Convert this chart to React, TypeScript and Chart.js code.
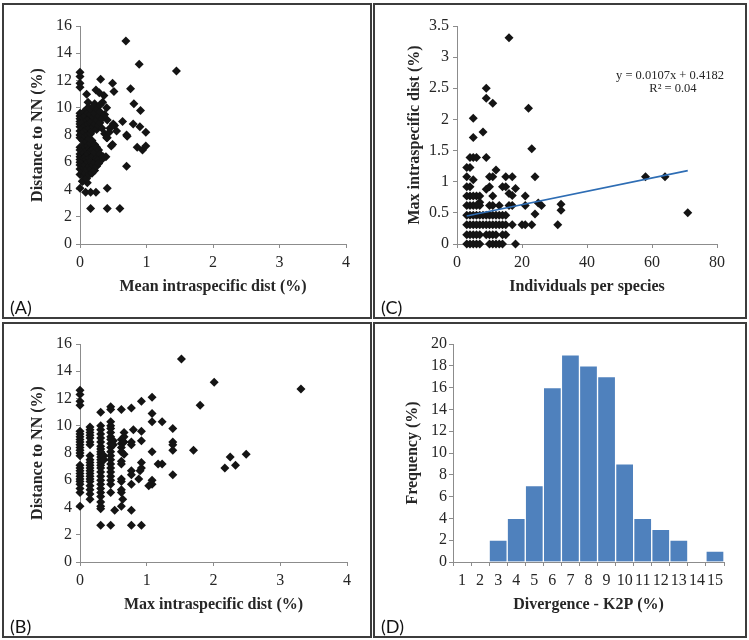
import React, { useEffect, useRef } from "react";
import { Chart, registerables } from "chart.js";

Chart.register(...registerables);

// ---------------- DATA ----------------
// Panel A: mean intraspecific distance (%) vs distance to nearest neighbour (%)
const panelAPoints: [number, number][] = [
  [0.69, 14.9], [0.89, 13.2], [1.45, 12.7], [0, 12.6], [0, 12.3], [0, 11.8], [0, 11.5],
  [0.31, 12.1], [0.49, 11.8], [0.51, 11.2], [0.76, 11.4], [0.1, 11.0], [0.24, 11.3], [0.29, 11.1],
  [0.36, 10.9], [0.81, 10.3], [0.91, 9.8], [0.12, 10.4], [0.22, 10.3], [0.34, 10.4], [0.41, 9.1],
  [0.64, 9.0], [0.8, 8.8], [0.9, 8.6], [0.99, 8.2], [0.52, 8.7], [0.55, 8.3], [0.7, 8.0], [0.71, 7.9],
  [0.45, 8.5], [0.41, 7.8], [0.49, 7.3], [0.47, 7.2], [0.86, 7.1], [0.94, 6.9], [0.99, 7.2], [0.7, 5.7],
  [0.41, 4.1], [0.16, 2.6], [0.41, 2.6], [0.6, 2.6], [0.085, 3.8], [0.16, 3.8], [0.24, 3.8],
  [0.035, 4.6], [0.11, 4.5], [0.39, 6.4], [0.33, 6.2], [0.5, 8.8],
  [0, 9.6], [0, 9.4], [0, 9.2], [0, 9.0], [0, 8.8], [0, 8.6], [0, 8.3], [0, 8.0], [0, 7.8], [0, 7.1],
  [0, 6.9], [0, 6.6], [0, 6.4], [0, 6.2], [0, 6.0], [0, 5.8], [0, 5.5], [0, 5.1], [0, 4.1],
  [0.02, 9.5], [0.02, 8.9], [0.02, 8.1], [0.02, 7.0], [0.02, 6.5], [0.02, 5.9],
  [0.04, 9.3], [0.04, 8.5], [0.04, 7.6], [0.04, 6.8], [0.04, 6.1], [0.04, 5.3], [0.04, 4.6],
  [0.06, 9.7], [0.06, 9.0], [0.06, 8.2], [0.06, 7.3], [0.06, 6.7], [0.06, 6.3], [0.06, 5.6], [0.06, 5.0],
  [0.08, 9.4], [0.08, 8.7], [0.08, 7.9], [0.08, 7.1], [0.08, 6.4], [0.08, 5.8], [0.08, 5.2],
  [0.1, 9.9], [0.1, 9.1], [0.1, 8.4], [0.1, 7.5], [0.1, 6.9], [0.1, 6.2], [0.1, 5.5], [0.1, 4.8],
  [0.12, 9.6], [0.12, 8.8], [0.12, 8.0], [0.12, 7.2], [0.12, 6.6], [0.12, 6.0], [0.12, 5.4],
  [0.14, 10.0], [0.14, 9.2], [0.14, 8.5], [0.14, 7.7], [0.14, 7.0], [0.14, 6.3], [0.14, 5.7], [0.14, 5.1],
  [0.16, 9.5], [0.16, 8.9], [0.16, 8.1], [0.16, 7.4], [0.16, 6.8], [0.16, 6.1], [0.16, 5.5],
  [0.18, 9.8], [0.18, 9.0], [0.18, 8.3], [0.18, 7.6], [0.18, 6.9], [0.18, 6.4], [0.18, 5.9], [0.18, 5.2],
  [0.2, 10.1], [0.2, 9.3], [0.2, 8.6], [0.2, 7.0], [0.2, 6.5], [0.2, 5.8],
  [0.22, 9.6], [0.22, 8.8], [0.22, 7.3], [0.22, 6.7], [0.22, 6.0], [0.22, 5.4],
  [0.25, 9.9], [0.25, 9.1], [0.25, 8.4], [0.25, 7.1], [0.25, 6.3], [0.25, 5.7],
  [0.28, 9.4], [0.28, 8.7], [0.28, 6.9], [0.28, 6.2], [0.28, 5.9],
  [0.3, 10.2], [0.3, 9.7], [0.3, 8.9], [0.3, 6.6],
  [0.33, 9.2], [0.33, 8.5], [0.35, 6.4], [0.37, 9.5], [0.37, 8.1], [0.4, 10.0], [0.4, 7.8], [0.44, 8.2],
];

// Panel B: max intraspecific distance (%) vs distance to nearest neighbour (%)
const panelBPoints: [number, number][] = [
  [0, 12.6], [0, 12.3], [0, 11.8], [0, 11.5], [0, 9.6], [0, 9.4], [0, 9.2], [0, 9.0], [0, 8.8], [0, 8.6],
  [0, 8.4], [0, 8.2], [0, 8.0], [0, 7.8], [0, 7.1], [0, 6.9], [0, 6.7], [0, 6.5], [0, 6.3], [0, 6.1],
  [0, 5.9], [0, 5.7], [0, 5.4], [0, 5.1], [0, 4.1],
  [0.15, 9.9], [0.15, 9.7], [0.15, 9.5], [0.15, 9.3], [0.15, 9.1], [0.15, 8.8], [0.15, 8.6], [0.15, 7.8],
  [0.15, 7.5], [0.15, 7.3], [0.15, 7.1], [0.15, 6.9], [0.15, 6.7], [0.15, 6.5], [0.15, 6.3], [0.15, 6.1],
  [0.15, 5.9], [0.15, 5.6], [0.15, 5.3], [0.15, 5.0], [0.15, 4.6],
  [0.31, 11.0], [0.31, 10.0], [0.31, 9.7], [0.31, 9.4], [0.31, 9.1], [0.31, 8.8], [0.31, 8.5], [0.31, 8.3],
  [0.31, 8.1], [0.31, 7.9], [0.31, 7.7], [0.31, 7.5], [0.31, 7.3], [0.31, 7.1], [0.31, 6.9], [0.31, 6.6],
  [0.31, 6.3], [0.31, 6.0], [0.31, 5.7], [0.31, 5.4], [0.31, 5.1], [0.31, 4.8], [0.31, 4.4], [0.31, 4.1],
  [0.31, 3.9], [0.31, 2.7], [0.36, 7.8], [0.36, 7.5],
  [0.46, 11.4], [0.46, 11.2], [0.46, 10.3], [0.46, 10.0], [0.46, 9.8], [0.46, 9.5], [0.46, 9.2], [0.46, 9.0],
  [0.46, 8.7], [0.46, 8.4], [0.46, 8.1], [0.46, 7.8], [0.46, 7.5], [0.46, 7.2], [0.46, 6.9], [0.46, 6.6],
  [0.46, 6.3], [0.46, 6.0], [0.46, 5.7], [0.46, 5.1], [0.46, 2.7], [0.5, 8.9], [0.5, 8.6], [0.52, 3.8],
  [0.62, 11.2], [0.62, 9.0], [0.62, 8.7], [0.62, 8.4], [0.62, 8.1], [0.62, 7.4], [0.62, 7.2], [0.62, 6.1],
  [0.62, 5.9], [0.62, 5.3], [0.62, 5.1], [0.62, 4.1], [0.64, 4.6],
  [0.66, 9.5], [0.66, 9.2], [0.66, 8.8], [0.66, 7.9],
  [0.77, 11.3], [0.77, 8.8], [0.77, 8.6], [0.77, 6.7], [0.77, 6.4], [0.77, 5.7], [0.77, 3.8], [0.77, 2.7],
  [0.8, 9.7], [0.88, 6.1], [0.9, 6.7],
  [0.92, 11.8], [0.92, 9.6], [0.92, 8.9], [0.92, 7.3], [0.92, 6.9], [0.92, 2.7],
  [1.08, 12.1], [1.08, 10.9], [1.08, 10.3], [1.08, 8.1], [1.08, 6.0], [1.08, 5.7], [1.03, 5.6],
  [1.17, 7.2], [1.23, 7.2], [1.23, 10.3],
  [1.39, 9.8], [1.39, 8.8], [1.39, 8.6], [1.39, 8.2], [1.39, 6.4],
  [1.52, 14.9], [1.7, 8.2], [1.8, 11.5], [2.01, 13.2], [2.17, 6.9], [2.25, 7.7], [2.33, 7.1], [2.49, 7.9],
  [3.31, 12.7],
];

// Panel C: individuals per species vs max intraspecific distance (%)
const panelCPoints: [number, number][] = [
  [3, 0], [4, 0], [5, 0], [6, 0], [7, 0], [10, 0], [11, 0], [12, 0], [13, 0], [14, 0], [18, 0],
  [3, 0.15], [4, 0.15], [5, 0.15], [6, 0.15], [7, 0.15], [9, 0.15], [10, 0.15], [11, 0.15], [12, 0.15],
  [14, 0.15], [15, 0.15],
  [3, 0.31], [4, 0.31], [5, 0.31], [6, 0.31], [7, 0.31], [8, 0.31], [9, 0.31], [10, 0.31], [11, 0.31],
  [12, 0.31], [13, 0.31], [14, 0.31], [15, 0.31], [17, 0.31], [20, 0.31], [21, 0.31], [23, 0.31], [31, 0.31],
  [3, 0.46], [4, 0.46], [5, 0.46], [6, 0.46], [7, 0.46], [8, 0.46], [9, 0.46], [10, 0.46], [11, 0.46],
  [12, 0.46], [13, 0.46], [14, 0.46], [15, 0.46], [24, 0.48],
  [3, 0.62], [4, 0.62], [5, 0.62], [6, 0.62], [7, 0.62], [10, 0.62], [11, 0.62], [13, 0.62], [16, 0.62],
  [17, 0.62], [21, 0.62], [25, 0.66], [26, 0.62], [32, 0.64], [32, 0.54], [7, 0.67],
  [3, 0.77], [4, 0.77], [5, 0.77], [6, 0.77], [7, 0.77], [11, 0.77], [16, 0.81], [17, 0.78], [21, 0.77],
  [18, 0.89],
  [3, 0.92], [4, 0.92], [9, 0.88], [10, 0.92], [14, 0.92], [15, 0.92],
  [3, 1.08], [10, 1.08], [11, 1.08], [15, 1.08], [17, 1.08], [24, 1.08], [5, 1.03], [12, 1.19],
  [3, 1.23], [4, 1.23], [4, 1.39], [5, 1.39], [6, 1.39], [9, 1.39],
  [5, 1.71], [8, 1.8], [5, 2.02], [9, 2.5], [9, 2.34], [11, 2.26], [22, 2.18], [23, 1.53], [16, 3.31],
  [58, 1.08], [64, 1.08], [71, 0.5],
];

// Panel C linear trend (as printed on the chart)
const trendSlope = 0.0107;
const trendIntercept = 0.4182;
const trendXRange = [3, 71];

// Panel D: histogram of K2P divergence
const divergenceBins = ["1", "2", "3", "4", "5", "6", "7", "8", "9", "10", "11", "12", "13", "14", "15"];
const frequencyPct = [0, 0, 2, 4, 7, 16, 19, 18, 17, 9, 4, 3, 2, 0, 1];

// ---------------- STYLE ----------------
const SERIF = "'Liberation Serif', 'Times New Roman', serif";
const SANS = "Lato, 'Liberation Sans', sans-serif";
const AXIS_COLOR = "#8c8c8c";
const TEXT_COLOR = "#262626";
const POINT_COLOR = "#141414";
const BAR_COLOR = "#4F81BD";
const TREND_COLOR = "#2E6DB4";
const FRAME_COLOR = "#3c3c3c";

type PanelBox = { left: number; top: number; width: number; height: number };
const boxA: PanelBox = { left: 2, top: 3, width: 370, height: 316 };
const boxC: PanelBox = { left: 373, top: 3, width: 374, height: 316 };
const boxB: PanelBox = { left: 2, top: 322, width: 370, height: 316 };
const boxD: PanelBox = { left: 373, top: 322, width: 374, height: 316 };

const TITLE_LH = 16 * 1.2;

function gridOpts() {
  return {
    display: true,
    drawOnChartArea: false,
    drawTicks: true,
    tickLength: 4,
    color: AXIS_COLOR,
    lineWidth: 1,
  };
}

const plainNumber = (v: any) => String(Math.round(Number(v) * 100) / 100);

function yAxis(o: { min: number; max: number; step: number; width: number; title: string; titleCenter: number; pad?: number }) {
  return {
    type: "linear",
    position: "left",
    min: o.min,
    max: o.max,
    afterFit: (s: any) => {
      s.width = o.width;
    },
    grid: gridOpts(),
    border: { display: true, color: AXIS_COLOR, width: 1 },
    ticks: {
      stepSize: o.step,
      autoSkip: false,
      color: TEXT_COLOR,
      font: { family: SERIF, size: 16 },
      padding: o.pad ?? 4,
      callback: plainNumber,
    },
    title: {
      display: true,
      text: o.title,
      color: TEXT_COLOR,
      font: { family: SERIF, size: 16, weight: "bold", lineHeight: 1.2 },
      padding: { top: o.titleCenter - TITLE_LH / 2, bottom: 0 },
    },
  };
}

function xAxis(o: { type?: string; min?: number; max?: number; step?: number; height: number; title: string; titleFromBottom: number }) {
  const t: any = {
    type: o.type ?? "linear",
    position: "bottom",
    afterFit: (s: any) => {
      s.height = o.height;
    },
    grid: { ...gridOpts(), offset: o.type === "category" },
    border: { display: true, color: AXIS_COLOR, width: 1 },
    ticks: {
      color: TEXT_COLOR,
      font: { family: SERIF, size: 16 },
      padding: 5,
      autoSkip: false,
      maxRotation: 0,
      minRotation: 0,
    },
    title: {
      display: true,
      text: o.title,
      color: TEXT_COLOR,
      font: { family: SERIF, size: 16, weight: "bold", lineHeight: 1.2 },
      padding: { top: 0, bottom: o.titleFromBottom - TITLE_LH / 2 },
    },
  };
  if (o.min !== undefined) t.min = o.min;
  if (o.max !== undefined) t.max = o.max;
  if (o.step !== undefined) {
    t.ticks.stepSize = o.step;
    t.ticks.callback = plainNumber;
  }
  return t;
}

function scatterDataset(points: [number, number][]) {
  return {
    type: "scatter",
    data: points.map(([x, y]) => ({ x, y })),
    pointStyle: "rectRot",
    pointRadius: 4.5,
    pointBorderWidth: 0,
    backgroundColor: POINT_COLOR,
    borderColor: POINT_COLOR,
    clip: false,
  };
}

const basePlugins = { legend: { display: false }, tooltip: { enabled: false } };

export default function App() {
  const refA = useRef<HTMLCanvasElement>(null);
  const refB = useRef<HTMLCanvasElement>(null);
  const refC = useRef<HTMLCanvasElement>(null);
  const refD = useRef<HTMLCanvasElement>(null);

  useEffect(() => {
    const charts: Chart[] = [];

    // Panel A
    charts.push(
      new Chart(refA.current!, {
        type: "scatter",
        data: { datasets: [scatterDataset(panelAPoints) as any] },
        options: {
          responsive: false,
          animation: false,
          events: [],
          layout: { padding: { top: 23, right: 26, bottom: 0, left: 0 } },
          plugins: basePlugins,
          scales: {
            x: xAxis({ min: 0, max: 4, step: 1, height: 75, title: "Mean intraspecific dist (%)", titleFromBottom: 32 }),
            y: yAxis({ min: 0, max: 16, step: 2, width: 78, title: "Distance to NN (%)", titleCenter: 36 }),
          } as any,
        },
      })
    );

    // Panel B
    charts.push(
      new Chart(refB.current!, {
        type: "scatter",
        data: { datasets: [scatterDataset(panelBPoints) as any] },
        options: {
          responsive: false,
          animation: false,
          events: [],
          layout: { padding: { top: 22, right: 25, bottom: 0, left: 0 } },
          plugins: basePlugins,
          scales: {
            x: xAxis({ min: 0, max: 4, step: 1, height: 76, title: "Max intraspecific dist (%)", titleFromBottom: 33 }),
            y: yAxis({ min: 0, max: 16, step: 2, width: 78, title: "Distance to NN (%)", titleCenter: 36 }),
          } as any,
        },
      })
    );

    // Panel C
    const trendPoints = trendXRange.map((x) => ({ x, y: trendSlope * x + trendIntercept }));
    charts.push(
      new Chart(refC.current!, {
        type: "scatter",
        data: {
          datasets: [
            {
              type: "scatter",
              data: trendPoints,
              showLine: true,
              pointRadius: 0,
              borderColor: TREND_COLOR,
              borderWidth: 1.6,
              clip: false,
            } as any,
            scatterDataset(panelCPoints) as any,
          ],
        },
        options: {
          responsive: false,
          animation: false,
          events: [],
          layout: { padding: { top: 23, right: 30, bottom: 0, left: 0 } },
          plugins: basePlugins,
          scales: {
            x: xAxis({ min: 0, max: 80, step: 20, height: 75, title: "Individuals per species", titleFromBottom: 32 }),
            y: yAxis({ min: 0, max: 3.5, step: 0.5, width: 84, title: "Max intraspecific dist (%)", titleCenter: 42 }),
          } as any,
        },
      })
    );

    // Panel D
    charts.push(
      new Chart(refD.current!, {
        type: "bar",
        data: {
          labels: divergenceBins,
          datasets: [
            {
              data: frequencyPct,
              backgroundColor: BAR_COLOR,
              borderColor: "#ffffff",
              borderWidth: 1,
              barPercentage: 1,
              categoryPercentage: 1,
            } as any,
          ],
        },
        options: {
          responsive: false,
          animation: false,
          events: [],
          layout: { padding: { top: 22, right: 23, bottom: 0, left: 0 } },
          plugins: basePlugins,
          scales: {
            x: xAxis({ type: "category", height: 76, title: "Divergence - K2P (%)", titleFromBottom: 33 }),
            y: yAxis({ min: 0, max: 20, step: 2, width: 80, title: "Frequency (%)", titleCenter: 40, pad: 2 }),
          } as any,
        },
      })
    );

    return () => charts.forEach((c) => c.destroy());
  }, []);

  const panel = (box: PanelBox, ref: React.RefObject<HTMLCanvasElement>, label: string) => (
    <React.Fragment key={label}>
      <canvas
        ref={ref}
        width={box.width}
        height={box.height}
        style={{ position: "absolute", left: box.left, top: box.top, width: box.width, height: box.height }}
      />
      <div
        style={{
          position: "absolute",
          left: box.left,
          top: box.top,
          width: box.width,
          height: box.height,
          border: `2px solid ${FRAME_COLOR}`,
          boxSizing: "border-box",
          pointerEvents: "none",
        }}
      />
      <div
        style={{
          position: "absolute",
          left: box.left + 8,
          top: box.top + 294,
          fontFamily: SANS,
          fontSize: 18,
          lineHeight: "20px",
          color: "#111",
        }}
      >
        {label}
      </div>
    </React.Fragment>
  );

  return (
    <div style={{ position: "absolute", left: 0, top: 0, width: 749, height: 640, background: "#fff" }}>
      {panel(boxA, refA, "(A)")}
      {panel(boxC, refC, "(C)")}
      {panel(boxB, refB, "(B)")}
      {panel(boxD, refD, "(D)")}
      <div
        style={{
          position: "absolute",
          left: 600,
          top: 69,
          width: 140,
          textAlign: "center",
          fontFamily: SERIF,
          fontSize: 12.5,
          lineHeight: "13px",
          color: TEXT_COLOR,
        }}
      >
        <div>y = 0.0107x + 0.4182</div>
        <div style={{ paddingLeft: 6 }}>R² = 0.04</div>
      </div>
    </div>
  );
}
